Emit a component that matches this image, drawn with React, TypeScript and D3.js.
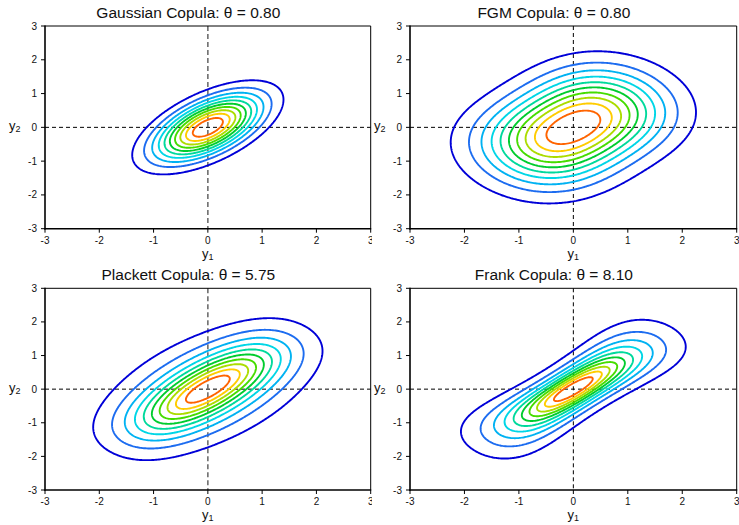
import React, { useMemo } from "react";
import * as d3 from "d3";

// ---------- data ----------
const copulaNames = ["Gaussian", "FGM", "Plackett", "Frank"];
const thetaValues = [0.8, 0.8, 5.75, 8.1];
const thetaLabels = ["0.80", "0.80", "5.75", "8.10"];
// contour levels as fractions of each surface's maximum
const levelFractions = [0.0909, 0.1818, 0.2727, 0.3636, 0.4545, 0.5455, 0.6364, 0.7273, 0.8182, 0.9091];
const contourColors = [
  "#0000d8",
  "#1c6cf0",
  "#00b2f2",
  "#00d6e6",
  "#00d99c",
  "#00cc2e",
  "#46dc00",
  "#acdc00",
  "#ffcc00",
  "#ff6400",
];
const axisTicks = [-3, -2, -1, 0, 1, 2, 3];
const axisDomain = [-3, 3];

// ---------- math helpers ----------
function erf(x: number) {
  const s = x < 0 ? -1 : 1;
  x = Math.abs(x);
  const t = 1 / (1 + 0.3275911 * x);
  const y =
    1 -
    ((((1.061405429 * t - 1.453152027) * t + 1.421413741) * t - 0.284496736) * t + 0.254829592) *
      t *
      Math.exp(-x * x);
  return s * y;
}
const pdf = (x: number) => Math.exp(-0.5 * x * x) / Math.sqrt(2 * Math.PI);
const cdf = (x: number) => 0.5 * (1 + erf(x / Math.SQRT2));

function density(kind: string, th: number, x: number, y: number) {
  const px = pdf(x), py = pdf(y);
  if (kind === "Gaussian") {
    const r2 = 1 - th * th;
    const b = Math.exp(-(x * x - 2 * th * x * y + y * y) / (2 * r2)) / (2 * Math.PI * Math.sqrt(r2));
    return px * py * b;
  }
  const u = cdf(x), v = cdf(y);
  if (kind === "FGM") {
    return px * py * (1 + th * (1 - 2 * u) * (1 - 2 * v));
  }
  if (kind === "Plackett") {
    const num = th * (1 + (th - 1) * (u + v - 2 * u * v));
    const d = Math.pow(1 + (th - 1) * (u + v), 2) - 4 * th * (th - 1) * u * v;
    return (px * py * num) / Math.pow(d, 1.5);
  }
  // Frank
  const e = 1 - Math.exp(-th);
  const num = th * e * Math.exp(-th * (u + v));
  const den = e - (1 - Math.exp(-th * u)) * (1 - Math.exp(-th * v));
  return (px * py * num) / (den * den);
}

// ---------- layout ----------
const W = 739, H = 525;
const panelBoxes = [
  { x0: 45, x1: 370.7, y0: 26, y1: 228.7, grayV: true },
  { x0: 410, x1: 736.7, y0: 26, y1: 228.7, grayV: false },
  { x0: 45, x1: 370.7, y0: 288.3, y1: 490, grayV: true },
  { x0: 410, x1: 736.7, y0: 288.3, y1: 490, grayV: false },
];
const FONT = "'Liberation Sans', Arial, Helvetica, sans-serif";

function Panel({ idx }: { idx: number }) {
  const b = panelBoxes[idx];
  const kind = copulaNames[idx];
  const th = thetaValues[idx];
  const xs = d3.scaleLinear().domain(axisDomain).range([b.x0, b.x1]);
  const ys = d3.scaleLinear().domain(axisDomain).range([b.y1, b.y0]);

  const paths = useMemo(() => {
    const n = 241;
    const lo = axisDomain[0], hi = axisDomain[1];
    const step = (hi - lo) / (n - 1);
    const vals = new Array(n * n);
    let mx = 0;
    for (let j = 0; j < n; j++) {
      const yv = lo + j * step;
      for (let i = 0; i < n; i++) {
        const xv = lo + i * step;
        const d = density(kind, th, xv, yv);
        vals[j * n + i] = d;
        if (d > mx) mx = d;
      }
    }
    const thresholds = levelFractions.map((f) => f * mx);
    const cs = d3.contours().size([n, n]).thresholds(thresholds)(vals);
    const proj = d3.geoTransform({
      point(gx: number, gy: number) {
        (this as any).stream.point(xs(lo + (gx - 0.5) * step), ys(lo + (gy - 0.5) * step));
      },
    });
    const gp = d3.geoPath(proj);
    return cs.map((c, k) => ({ d: gp(c as any) || "", color: contourColors[k] }));
  }, [idx]);

  const cx = (b.x0 + b.x1) / 2;
  const titleX = cx - 19.5;
  const tickLen = 4;
  return (
    <g>
      {idx % 2 === 1 && <rect x={372} y={b.y0 - 25} width={W - 372} height={b.y1 - b.y0 + 57} fill="#fff" />}
      <text x={titleX} y={b.y0 - 8} textAnchor="middle" fontSize={15.5} fontFamily={FONT} fill="#111">
        {`${kind} Copula: θ = ${thetaLabels[idx]}`}
      </text>
      {/* reference lines */}
      <line x1={b.x0} x2={b.x1} y1={ys(0)} y2={ys(0)} stroke="#000" strokeWidth={1} strokeDasharray="4,3" />
      <line
        x1={xs(0)}
        x2={xs(0)}
        y1={b.y0}
        y2={b.y1}
        stroke={b.grayV ? "#6e6e6e" : "#000"}
        strokeWidth={b.grayV ? 1.6 : 1}
        strokeDasharray={b.grayV ? "5,3" : "4,3"}
      />
      {paths.map((p, k) => (
        <path key={k} d={p.d} fill="none" stroke={p.color} strokeWidth={1.9} strokeLinejoin="round" />
      ))}
      {/* frame */}
      <line x1={b.x0} x2={b.x1} y1={b.y0} y2={b.y0} stroke="#000" strokeWidth={1} />
      <line x1={b.x1} x2={b.x1} y1={b.y0} y2={b.y1} stroke="#000" strokeWidth={1} />
      <line x1={b.x0} x2={b.x0} y1={b.y0 - 0.5} y2={b.y1 + 0.8} stroke="#000" strokeWidth={1.6} />
      <line x1={b.x0 - 0.8} x2={b.x1 + 0.5} y1={b.y1} y2={b.y1} stroke="#000" strokeWidth={1.6} />
      {axisTicks.map((t) => (
        <g key={"y" + t}>
          <line x1={b.x0 - tickLen} x2={b.x0} y1={ys(t)} y2={ys(t)} stroke="#000" strokeWidth={1} />
          <text x={b.x0 - 8} y={ys(t) + 3.5} textAnchor="end" fontSize={10} fontFamily={FONT} fill="#111">
            {t}
          </text>
        </g>
      ))}
      {axisTicks.map((t) => (
        <g key={"x" + t}>
          <line x1={xs(t)} x2={xs(t)} y1={b.y1} y2={b.y1 + tickLen} stroke="#000" strokeWidth={1} />
          <text x={xs(t)} y={b.y1 + 15} textAnchor="middle" fontSize={10} fontFamily={FONT} fill="#111">
            {t}
          </text>
        </g>
      ))}
      <text x={b.x0 - 36} y={ys(0) + 3} fontSize={13} fontFamily={FONT} fill="#111">
        y<tspan fontSize={9} dy={2}>2</tspan>
      </text>
      <text x={cx} y={b.y1 + 29} textAnchor="middle" fontSize={13} fontFamily={FONT} fill="#111">
        y<tspan fontSize={9} dy={2}>1</tspan>
      </text>
    </g>
  );
}

export default function App() {
  return (
    <svg
      width={W}
      height={H}
      viewBox={`0 0 ${W} ${H}`}
      style={{ position: "absolute", left: 0, top: 0, background: "#fff" }}
    >
      <rect x={0} y={0} width={W} height={H} fill="#fff" />
      {[0, 1, 2, 3].map((i) => (
        <Panel key={i} idx={i} />
      ))}
    </svg>
  );
}
